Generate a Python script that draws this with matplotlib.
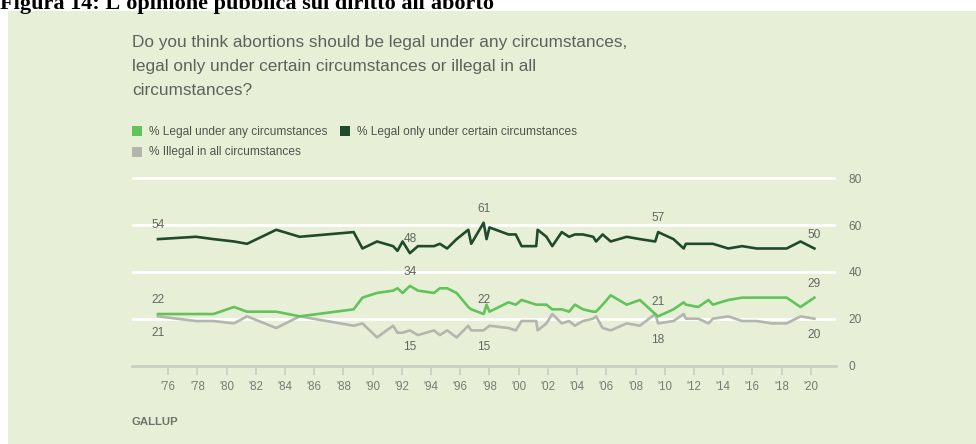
import matplotlib
matplotlib.use("Agg")
import matplotlib.pyplot as plt
from matplotlib.patches import Rectangle

# poll dates (fractional years) and the three Gallup series
years = [1975.3, 1977.9, 1979.1, 1980.5, 1981.4, 1983.4, 1985.0, 1988.7,
         1989.3, 1990.3, 1991.4, 1991.7, 1992.05, 1992.55, 1993.1, 1994.2,
         1994.6, 1995.1, 1995.75, 1996.55, 1996.75, 1997.6, 1997.8, 1998.0,
         1999.3, 1999.8, 2000.2, 2001.2, 2001.3, 2001.9, 2002.3, 2002.95,
         2003.45, 2003.85, 2004.4, 2005.1, 2005.3, 2005.75, 2006.3, 2007.4,
         2008.3, 2009.35, 2009.55, 2010.6, 2011.3, 2011.45, 2012.3, 2013.0,
         2013.3, 2014.35, 2015.3, 2016.3, 2017.35, 2018.35, 2019.3, 2020.25]
legal_any = [22, 22, 22, 25, 23, 23, 21, 24,
             29, 31, 32, 33, 31, 34, 32, 31,
             33, 33, 31, 25, 24, 22, 26, 23,
             27, 26, 28, 26, 26, 26, 24, 24,
             23, 26, 24, 23, 23, 26, 30, 26,
             28, 22, 21, 24, 27, 26, 25, 28,
             26, 28, 29, 29, 29, 29, 25, 29]
legal_certain = [54, 55, 54, 53, 52, 58, 55, 57,
                 50, 53, 51, 49, 53, 48, 51, 51,
                 52, 50, 54, 58, 52, 61, 54, 59,
                 56, 56, 51, 51, 58, 55, 51, 57,
                 55, 56, 56, 55, 53, 56, 53, 55,
                 54, 53, 57, 54, 50, 52, 52, 52,
                 52, 50, 51, 50, 50, 50, 53, 50]
illegal = [21, 19, 19, 18, 21, 16, 21, 17,
           18, 12, 17, 14, 14, 15, 13, 15,
           13, 15, 12, 17, 15, 15, 16, 17,
           16, 15, 19, 19, 15, 18, 22, 18,
           19, 17, 19, 20, 21, 16, 15, 18,
           17, 22, 18, 19, 22, 20, 20, 18,
           20, 21, 19, 19, 18, 18, 21, 20]

series_names = ["% Legal under any circumstances",
                "% Legal only under certain circumstances",
                "% Illegal in all circumstances"]
tick_years = list(range(1976, 2021, 2))
y_ticks = [0, 20, 40, 60, 80]
# indices of the polls whose values are printed on the chart
label_idx = [0, 13, 21, 42, 55]

c_any = "#62c35a"
c_certain = "#1f4a2c"
c_illegal = "#b3b6ae"
bg = "#e7f0d7"
txt = "#62665f"

fig = plt.figure(figsize=(9.76, 4.44), dpi=100)
fig.patch.set_facecolor("white")
fig.add_artist(Rectangle((8 / 976, 0), 1, 1 - 11 / 444, transform=fig.transFigure,
                         facecolor=bg, edgecolor="none", zorder=0))

# page caption, its top is cut by the page edge like in the scan
fig.text(0.0, 1 - 8.5 / 444, "Figura 14: L'opinione pubblica sul diritto all'aborto",
         family="Liberation Serif", weight="bold", fontsize=16, color="black",
         va="baseline", ha="left")

question = ["Do you think abortions should be legal under any circumstances,",
            "legal only under certain circumstances or illegal in all",
            "circumstances?"]
for i, line in enumerate(question):
    fig.text(132 / 976, 1 - (42 + 24 * i) / 444, line, family="Liberation Sans",
             fontsize=12.4, color="#5e625c", va="center", ha="left")

# legend drawn by hand
leg = [(132, 131.5, c_any, series_names[0]),
       (340, 131.5, c_certain, series_names[1]),
       (132, 152.5, c_illegal, series_names[2])]
for x0, yc, col, name in leg:
    fig.add_artist(Rectangle((x0 / 976, 1 - (yc + 5) / 444), 10 / 976, 10 / 444,
                             transform=fig.transFigure, facecolor=col, edgecolor="none"))
    fig.text((x0 + 17) / 976, 1 - yc / 444, name, family="Liberation Sans",
             fontsize=8.55, color="#4f534d", va="center", ha="left")

ax = fig.add_axes([132 / 976, 1 - 365.5 / 444, 704 / 976, 191.9 / 444])
ax.set_facecolor("none")
ax.set_xlim(1973.52, 2021.73)
ax.set_ylim(0, 82)

for y in y_ticks[1:]:
    ax.axhline(y, color="white", lw=2, zorder=1)

ax.plot(years, legal_certain, color=c_certain, lw=1.9, zorder=3)
ax.plot(years, illegal, color=c_illegal, lw=1.9, zorder=2)
ax.plot(years, legal_any, color=c_any, lw=1.9, zorder=3)

for s in ["top", "left", "right"]:
    ax.spines[s].set_visible(False)
ax.spines["bottom"].set_color("#c9d0c0")
ax.spines["bottom"].set_linewidth(2)

ax.set_xticks(tick_years)
ax.set_xticklabels(["'" + str(y)[2:] for y in tick_years])
ax.tick_params(axis="x", length=6.5, width=1.3, color="#c9d0c0", pad=5,
               labelsize=8.3, labelcolor="#767b71")
for lab in ax.get_xticklabels():
    lab.set_family("Liberation Sans")

ax.set_yticks(y_ticks)
ax.yaxis.tick_right()
ax.tick_params(axis="y", length=0, pad=9, labelsize=8.6, labelcolor="#6c7168")
for lab in ax.get_yticklabels():
    lab.set_family("Liberation Sans")

for i in label_idx:
    for vals, off in [(legal_certain, 10), (legal_any, 10), (illegal, -12)]:
        ax.annotate(str(vals[i]), (years[i], vals[i]), xytext=(0, off),
                    textcoords="offset points", ha="center", va="center",
                    fontsize=8.6, color=txt, family="Liberation Sans")

fig.text(132 / 976, 1 - 421.5 / 444, "GALLUP", family="Liberation Sans",
         weight="bold", fontsize=8.2, color="#6f7469", va="center", ha="left")

fig.savefig("out.png", dpi=100, facecolor=fig.get_facecolor())
